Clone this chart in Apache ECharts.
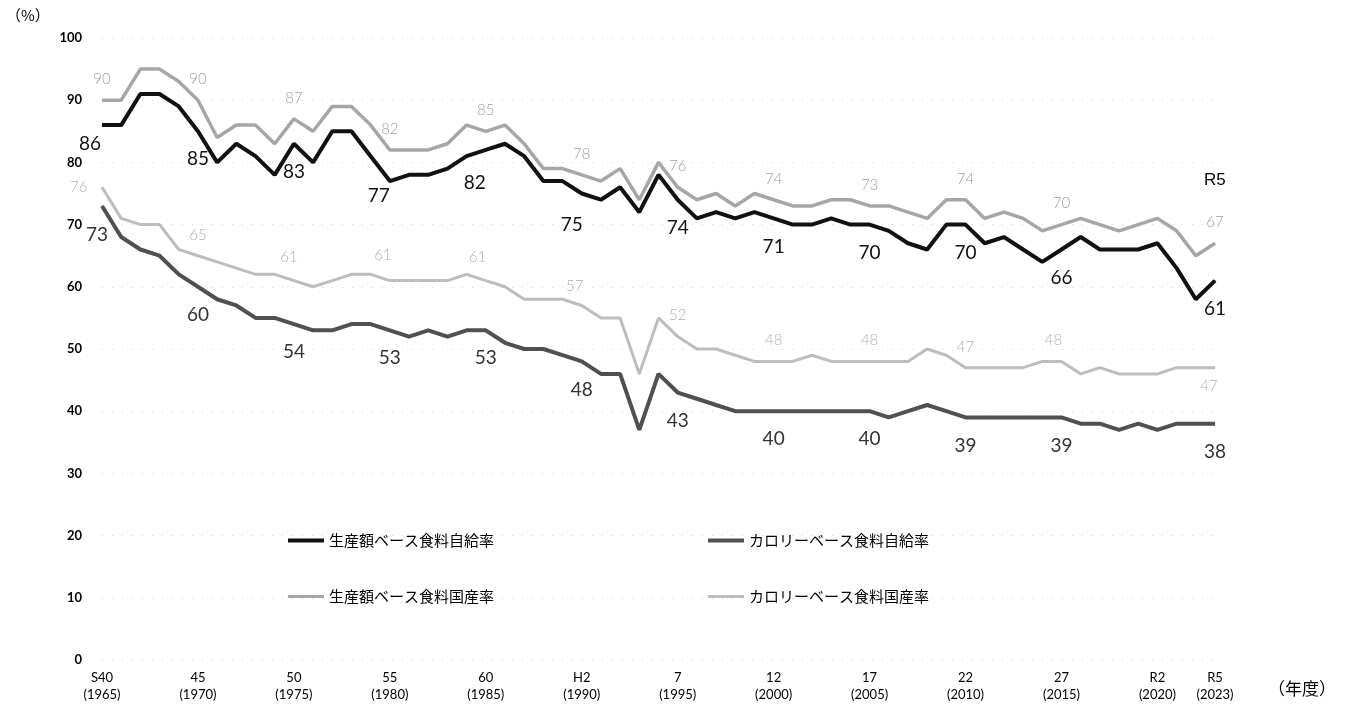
<!DOCTYPE html>
<html>
<head>
<meta charset="utf-8">
<script src="https://cdn.jsdelivr.net/npm/echarts@6/dist/echarts.min.js"></script>
<style>html,body{margin:0;padding:0;background:#fff;}#c{width:1348px;height:708px;}</style>
</head>
<body>
<div id="c"></div>
<script>
// ---- data ----
const years = [1965,1966,1967,1968,1969,1970,1971,1972,1973,1974,1975,1976,1977,1978,1979,1980,1981,1982,1983,1984,1985,1986,1987,1988,1989,1990,1991,1992,1993,1994,1995,1996,1997,1998,1999,2000,2001,2002,2003,2004,2005,2006,2007,2008,2009,2010,2011,2012,2013,2014,2015,2016,2017,2018,2019,2020,2021,2022,2023];
const tickYears = [1965,1970,1975,1980,1985,1990,1995,2000,2005,2010,2015,2020,2023];
const tickText = ['S40\n(1965)','45\n(1970)','50\n(1975)','55\n(1980)','60\n(1985)','H2\n(1990)','7\n(1995)','12\n(2000)','17\n(2005)','22\n(2010)','27\n(2015)','R2\n(2020)','R5\n(2023)'];
const labelYears = [1965,1970,1975,1980,1985,1990,1995,2000,2005,2010,2015,2023];

const seriesNames = ['生産額ベース食料自給率','カロリーベース食料自給率','生産額ベース食料国産率','カロリーベース食料国産率'];
const prodSelf = [86,86,91,91,89,85,80,83,81,78, 83,80,85,85,81,77,78,78,79,81, 82,83,81,77,77,75,74,76,72,78, 74,71,72,71,72,71,70,70,71,70, 70,69,67,66,70,70,67,68,66,64, 66,68,66,66,66,67,63,58,61];
const calSelf  = [73,68,66,65,62,60,58,57,55,55, 54,53,53,54,54,53,52,53,52,53, 53,51,50,50,49,48,46,46,37,46, 43,42,41,40,40,40,40,40,40,40, 40,39,40,41,40,39,39,39,39,39, 39,38,38,37,38,37,38,38,38];
const prodDom  = [90,90,95,95,93,90,84,86,86,83, 87,85,89,89,86,82,82,82,83,86, 85,86,83,79,79,78,77,79,74,80, 76,74,75,73,75,74,73,73,74,74, 73,73,72,71,74,74,71,72,71,69, 70,71,70,69,70,71,69,65,67];
const calDom   = [76,71,70,70,66,65,64,63,62,62, 61,60,61,62,62,61,61,61,61,62, 61,60,58,58,58,57,55,55,46,55, 52,50,50,49,48,48,48,49,48,48, 48,48,48,50,49,47,47,47,47,48, 48,46,47,46,46,46,47,47,47];

// ---- label placement tweaks (style only) ----
const labelTweaks = [
  {1965:{offset:[-12,-9]},1980:{offset:[-11,-13]},1985:{offset:[-11,5]},1990:{offset:[-10,3]}},
  {1965:{offset:[-5,1]}},
  {},
  {1965:{position:'left',distance:14,offset:[0,0]},1975:{offset:[-5,-2]},1980:{offset:[-7,-4]},1985:{offset:[-8,-2]},1990:{offset:[-7,2]},2015:{offset:[-8,0]},2023:{position:'bottom',distance:10,offset:[-6,0]}}
];

function buildData(vals, si, baseLabel){
  return vals.map((v,i)=>{
    const y = years[i];
    if(labelYears.indexOf(y) < 0) return v;
    return {value:v, label:Object.assign({show:true}, baseLabel, labelTweaks[si][y] || {})};
  });
}

const numFont = 'Lato, "Noto Sans CJK JP", sans-serif';
const jpFont = '"Noto Sans CJK JP", sans-serif';

function lineSeries(name, vals, si, color, width, z, baseLabel){
  return {name:name, type:'line', symbol:'circle', symbolSize:1, showSymbol:true, z:z,
    itemStyle:{color:color}, lineStyle:{color:color, width:width},
    emphasis:{disabled:true},
    data:buildData(vals, si, baseLabel)};
}

const chart = echarts.init(document.getElementById('c'), null, {renderer:'canvas'});
const option = {
  animation:false,
  backgroundColor:'#fff',
  grid:{left:102,right:133,top:38,bottom:48},
  legend:[
    {data:[seriesNames[0],seriesNames[1]], left:283, top:528, itemWidth:36, itemHeight:4, itemGap:214, icon:'rect',
     textStyle:{fontFamily:jpFont,fontSize:15,color:'#000'}, selectedMode:false},
    {data:[seriesNames[2],seriesNames[3]], left:283, top:584, itemWidth:36, itemHeight:3, itemGap:214, icon:'rect',
     textStyle:{fontFamily:jpFont,fontSize:15,color:'#000'}, selectedMode:false}
  ],
  xAxis:{
    type:'category', data:years.map(String), boundaryGap:false,
    axisLine:{show:false}, axisTick:{show:false},
    axisLabel:{
      interval:(i)=>tickYears.indexOf(years[i])>=0,
      formatter:(v)=>tickText[tickYears.indexOf(+v)],
      fontFamily:numFont, fontSize:13, lineHeight:17, color:'#000', margin:9, hideOverlap:false
    },
    splitLine:{show:false}
  },
  yAxis:{
    type:'value', min:0, max:100, interval:10,
    axisLine:{show:false}, axisTick:{show:false},
    axisLabel:{fontFamily:numFont, fontSize:13, fontWeight:'bold', color:'#000', margin:20},
    splitLine:{lineStyle:{color:'#d4d4d4', type:[1,9], width:1}}
  },
  series:[
    lineSeries(seriesNames[3], calDom, 3, '#bdbdbd', 3, 2, {position:'top',distance:13,fontFamily:numFont,fontSize:15,fontWeight:300,color:'#b0b0b0'}),
    lineSeries(seriesNames[2], prodDom, 2, '#a6a6a6', 3.5, 3, {position:'top',distance:13,fontFamily:numFont,fontSize:15,fontWeight:300,color:'#a0a0a0'}),
    lineSeries(seriesNames[1], calSelf, 1, '#505050', 4, 4, {position:'bottom',distance:18,fontFamily:numFont,fontSize:19,color:'#333'}),
    lineSeries(seriesNames[0], prodSelf, 0, '#111', 4, 5, {position:'bottom',distance:18,fontFamily:numFont,fontSize:19,color:'#111'})
  ],
  graphic:[
    {type:'text', left:6, top:8, style:{text:'（%）', font:'15px "Noto Sans CJK JP"', fill:'#000'}},
    {type:'text', left:1268, top:680, style:{text:'（年度）', font:'17px "Noto Sans CJK JP"', fill:'#000'}},
    {type:'text', left:1204, top:172, style:{text:'R5', font:'17px "Liberation Sans", sans-serif', fill:'#000'}}
  ]
};
chart.setOption(option);
</script>
</body>
</html>
